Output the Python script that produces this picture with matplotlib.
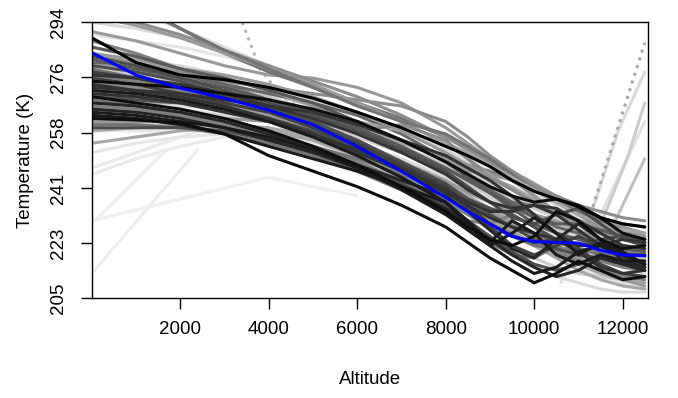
import numpy as np
import matplotlib.pyplot as plt

plt.rcParams['font.family'] = ['Liberation Sans', 'DejaVu Sans']

# common altitude grid for most profiles
alt = [0, 1000, 2000, 3000, 4000, 5000, 6000, 7000, 8000, 8500,
       9000, 9500, 10000, 10500, 11000, 11500, 12000, 12500]

# (gray level, temperatures) - light ones first, darkest last
light = [
    (0.88, [300, 297, 292, 286, 280, 275, 270, 264, 257, 253, 249, 245, 241, 237, 233, 229, 226, 224]),
    (0.85, [294, 292, 289, 285, 280, 274, 268, 262, 255, 251, 247, 243, 239, 235, 231, 228, 225, 223]),
    (0.90, [290, 288, 286, 283, 279, 274, 268, 262, 255, 251, 247, 243, 239, 236, 233, 230, 227, 225]),
    (0.87, [262, 261, 261, 260, 259, 257, 253, 248, 243, 239, 236, 232, 228, 225, 221, 218, 215, 213]),
    (0.90, [259, 259, 259, 259, 258, 255, 250, 244, 238, 234, 230, 226, 222, 218, 215, 212, 210, 209]),
    (0.85, [270, 268, 266, 264, 262, 259, 255, 250, 244, 240, 237, 234, 231, 228, 225, 222, 220, 219]),
    (0.90, [252, 255, 257, 258, 257, 254, 249, 244, 238, 234, 230, 226, 222, 219, 216, 213, 211, 210]),
    (0.80, [280, 277, 274, 270, 266, 262, 257, 252, 246, 242, 238, 234, 230, 227, 224, 221, 219, 218]),
    (0.82, [275, 273, 271, 268, 265, 261, 257, 252, 247, 243, 240, 237, 234, 231, 228, 225, 222, 220]),
    (0.88, [266, 267, 267, 266, 263, 258, 252, 246, 240, 236, 232, 228, 224, 220, 216, 213, 210, 208]),
    (0.78, [286, 283, 279, 275, 270, 265, 260, 254, 248, 244, 240, 236, 232, 229, 226, 223, 220, 218]),
    (0.85, [283, 282, 280, 277, 273, 269, 265, 260, 253, 249, 244, 240, 236, 232, 228, 224, 221, 219]),
    (0.92, [245, 250, 254, 257, 258, 257, 253, 247, 240, 236, 232, 228, 224, 221, 218, 215, 213, 212]),
    (0.80, [278, 277, 276, 274, 271, 267, 262, 256, 250, 246, 242, 238, 234, 231, 229, 227, 226, 226]),
    (0.85, [268, 267, 265, 262, 258, 253, 247, 241, 234, 229, 224, 219, 215, 212, 210, 208, 207, 207]),
    (0.80, [276, 274, 271, 267, 262, 256, 250, 243, 236, 232, 227, 222, 218, 215, 213, 212, 211, 210]),
]

medium = [
    (0.60, [291, 288, 284, 280, 277, 276, 273, 268, 260, 255, 250, 246, 242, 238, 235, 231, 228, 226]),
    (0.55, [283, 281, 278, 275, 273, 271, 269, 267, 262, 257, 251, 246, 241, 237, 234, 231, 229, 228]),
    (0.60, [262, 262, 262, 261, 259, 256, 251, 246, 240, 236, 232, 228, 224, 221, 218, 215, 213, 212]),
    (0.65, [276, 274, 272, 270, 267, 264, 260, 255, 250, 247, 244, 241, 237, 233, 229, 226, 224, 223]),
    (0.50, [288, 284, 279, 274, 269, 265, 261, 256, 251, 248, 246, 243, 240, 236, 232, 228, 226, 225]),
    (0.65, [268, 268, 268, 267, 265, 261, 256, 249, 242, 238, 234, 230, 226, 222, 219, 217, 216, 216]),
    (0.45, [279, 276, 273, 269, 264, 258, 252, 246, 240, 236, 232, 229, 226, 223, 221, 219, 217, 216]),
    (0.50, [272, 271, 270, 268, 266, 263, 259, 253, 247, 243, 239, 236, 235, 233, 229, 224, 220, 219]),
    (0.45, [308, 300, 292, 284, 278, 273, 268, 263, 257, 253, 249, 244, 238, 233, 229, 226, 224, 223]),
    (0.65, [259, 260, 261, 261, 260, 257, 252, 245, 238, 234, 230, 226, 222, 219, 216, 213, 211, 210]),
    (0.40, [281, 279, 277, 274, 271, 268, 264, 258, 250, 245, 240, 236, 232, 228, 226, 224, 222, 221]),
    (0.60, [266, 265, 264, 263, 262, 259, 254, 248, 241, 237, 233, 229, 225, 221, 217, 214, 211, 209]),
    (0.55, [297, 294, 290, 285, 280, 275, 270, 264, 257, 253, 249, 245, 241, 238, 235, 233, 231, 230]),
    (0.50, [277, 275, 272, 268, 263, 257, 251, 244, 237, 233, 229, 226, 223, 220, 217, 214, 212, 211]),
    (0.60, [296, 293, 289, 284, 279, 274, 268, 262, 255, 250, 245, 240, 236, 232, 229, 226, 224, 223]),
    (0.60, [270, 270, 269, 267, 264, 260, 255, 249, 243, 239, 236, 233, 232, 230, 227, 224, 221, 220]),
    (0.45, [306, 299, 292, 285, 279, 273, 267, 262, 258, 254, 250, 245, 240, 236, 233, 230, 227, 225]),
    (0.65, [255, 257, 259, 260, 259, 256, 251, 245, 239, 235, 231, 227, 222, 218, 214, 211, 209, 208]),
    (0.65, [273, 272, 270, 268, 266, 264, 262, 259, 255, 252, 248, 244, 240, 236, 232, 229, 227, 226]),
    (0.50, [264, 263, 262, 261, 258, 254, 249, 243, 236, 232, 228, 225, 223, 221, 219, 217, 215, 214]),
    (0.60, [280, 280, 279, 277, 274, 270, 265, 259, 252, 248, 244, 240, 236, 233, 230, 228, 226, 225]),
    (0.45, [269, 267, 264, 261, 258, 254, 250, 245, 239, 234, 229, 225, 222, 221, 221, 220, 218, 217]),
    (0.55, [274, 273, 271, 268, 265, 262, 259, 261, 256, 250, 244, 240, 236, 232, 230, 228, 226, 224]),
    (0.50, [267, 266, 264, 261, 257, 252, 246, 240, 233, 230, 229, 232, 228, 222, 219, 221, 218, 215]),
    (0.60, [284, 282, 279, 276, 272, 267, 262, 256, 250, 246, 245, 243, 238, 233, 230, 228, 225, 224]),
    (0.45, [261, 261, 260, 258, 255, 251, 246, 240, 233, 228, 223, 219, 218, 222, 225, 221, 216, 214]),
]

dark = [
    (0.35, [286, 283, 279, 276, 272, 268, 262, 256, 249, 244, 239, 234, 229, 226, 224, 222, 221, 220]),
    (0.35, [282, 279, 276, 273, 269, 265, 260, 254, 247, 243, 239, 235, 231, 229, 229, 227, 225, 223]),
    (0.30, [283, 280, 276, 272, 268, 264, 259, 253, 246, 241, 236, 231, 229, 232, 234, 229, 224, 222]),
    (0.30, [280, 278, 275, 271, 267, 262, 256, 249, 242, 237, 232, 228, 224, 221, 219, 218, 216, 215]),
    (0.30, [270, 269, 268, 266, 263, 259, 254, 248, 241, 237, 234, 232, 228, 224, 222, 224, 225, 224]),
    (0.30, [260, 260, 260, 259, 256, 252, 248, 242, 235, 230, 225, 220, 216, 214, 216, 219, 217, 215]),
    (0.25, [276, 274, 271, 268, 265, 260, 254, 247, 240, 234, 228, 222, 219, 222, 225, 222, 218, 216]),
    (0.25, [278, 276, 273, 270, 266, 261, 255, 248, 241, 235, 229, 225, 223, 224, 221, 216, 213, 212]),
    (0.20, [271, 270, 268, 265, 262, 258, 253, 247, 240, 236, 233, 233, 235, 232, 227, 222, 219, 219]),
    (0.20, [273, 272, 271, 269, 267, 265, 261, 256, 251, 247, 243, 238, 232, 226, 222, 222, 224, 223]),
    (0.20, [274, 272, 270, 267, 263, 258, 252, 246, 239, 235, 231, 228, 226, 224, 220, 215, 213, 214]),
    (0.20, [277, 276, 274, 271, 267, 263, 258, 252, 245, 240, 236, 234, 235, 234, 230, 226, 222, 221]),
    (0.15, [268, 267, 265, 262, 258, 253, 248, 243, 238, 233, 227, 221, 218, 224, 229, 224, 217, 215]),
    (0.15, [266, 265, 263, 260, 256, 252, 247, 241, 234, 229, 224, 219, 215, 212, 214, 218, 216, 214]),
    (0.10, [264, 263, 261, 258, 254, 250, 246, 241, 236, 230, 223, 230, 226, 219, 216, 219, 217, 217]),
    (0.10, [265, 264, 262, 260, 257, 253, 247, 240, 232, 227, 222, 217, 213, 215, 220, 222, 219, 216]),
    (0.10, [272, 271, 269, 266, 262, 257, 251, 244, 236, 229, 222, 226, 231, 226, 219, 223, 220, 216]),
    (0.05, [275, 274, 273, 271, 269, 266, 262, 256, 249, 245, 241, 238, 236, 237, 235, 231, 226, 224]),
    (0.05, [263, 262.5, 261.5, 258, 251, 246, 241, 235, 228, 223, 218, 214, 210, 213, 217, 214, 211, 212]),
    (0.05, [270, 268, 266, 263, 259, 254, 248, 241, 233, 228, 224, 222, 225, 233, 230, 224, 221, 222]),
    (0.00, [289, 281, 277, 275.5, 273, 269.5, 265, 260, 254, 251, 247.5, 243, 239.5, 237, 234.5, 231, 229, 228]),
]

# sparse profiles with their own altitudes
sparse = [
    (0.93, '-', [0, 2400], [213, 253]),
    (0.94, '-', [0, 1700], [229, 253]),
    (0.94, '-', [0, 4000, 6000], [230, 244, 238]),
    (0.92, '-', [0, 3000], [247, 262]),
    (0.70, ':', [3400, 3800, 4300, 5000], [294, 279, 270, 264]),
    (0.88, '-', [10600, 11500, 12500], [210, 232, 262]),
    (0.85, '-', [10900, 11900, 12500], [215, 259, 278]),
    (0.80, '-', [11200, 12100, 12500], [218, 250, 268]),
    (0.75, '-', [11500, 12500], [220, 250]),
    (0.65, ':', [11050, 11870, 12500], [222, 259, 287.4]),
]

mean_temp = [284.2, 277, 272.8, 269.5, 265.7, 261, 254, 246, 237.5, 233,
             229, 225, 223.3, 223, 222.8, 220.5, 219, 218.7]

yticks = [205, 222.8, 240.6, 258.4, 276.2, 294]
ylabels = ['205', '223', '241', '258', '276', '294']
xticks = [2000, 4000, 6000, 8000, 10000, 12000]

fig = plt.figure(figsize=(6.78, 3.98), dpi=100)
ax = fig.add_axes([0.1361, 0.2505, 0.8201, 0.6935])

for g, ls, x, y in sparse:
    ax.plot(x, y, color=str(g), lw=2.2, ls=ls, solid_capstyle='round')
for group in (light, medium, dark):
    for g, t in group:
        ax.plot(alt, t, color=str(g), lw=2.2, solid_joinstyle='round',
                solid_capstyle='round')
ax.plot(alt, mean_temp, color='#0000ff', lw=2.2)

ax.set_xlim(10, 12580)
ax.set_ylim(205, 294)
ax.set_xticks(xticks)
ax.set_xticklabels([str(v) for v in xticks])
ax.set_yticks(yticks)
ax.set_yticklabels(ylabels, rotation=90, va='center')
ax.tick_params(axis='both', direction='out', length=8, width=1.0, labelsize=13.5, color='black')
ax.tick_params(axis='x', pad=8)
ax.tick_params(axis='y', pad=10)
for s in ax.spines.values():
    s.set_linewidth(1.0)

ax.set_xlabel('Altitude', fontsize=13.5, labelpad=24)
ax.set_ylabel('Temperature (K)', fontsize=13.5, labelpad=12)

fig.savefig('out.png', dpi=100)
